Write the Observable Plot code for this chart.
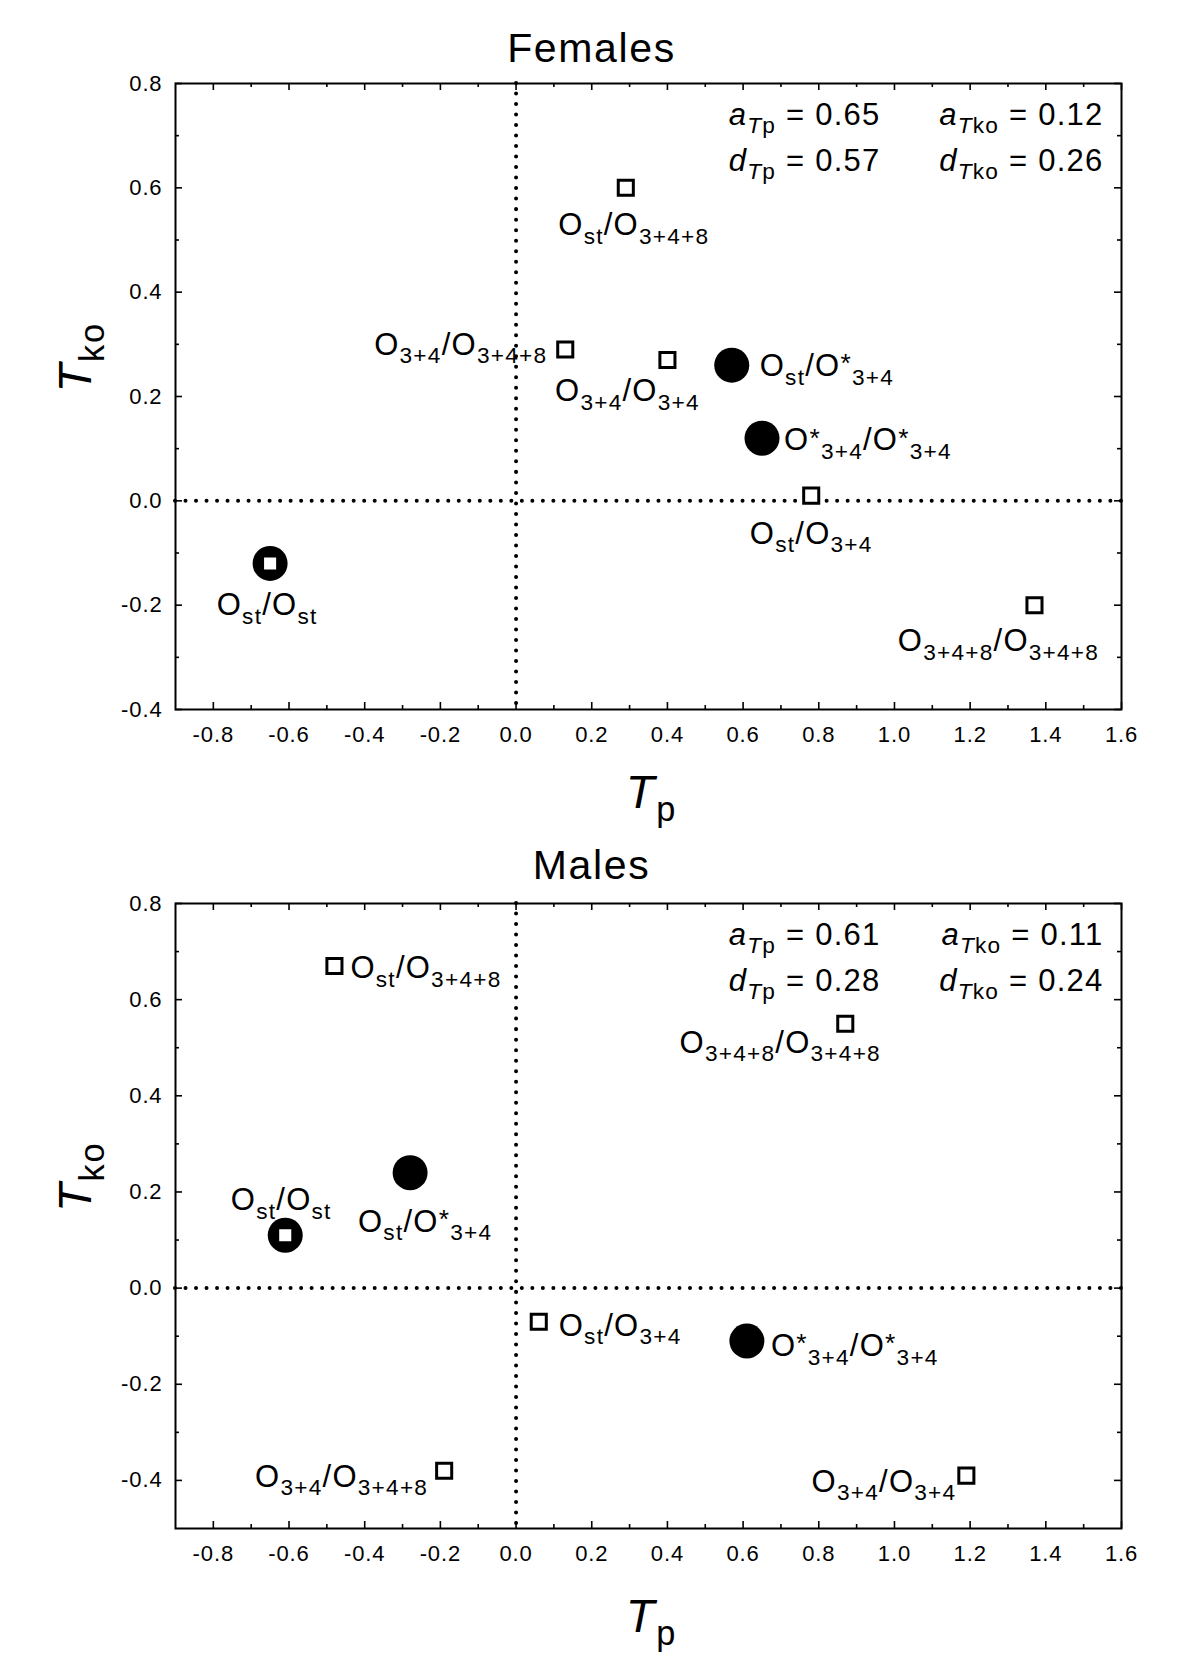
<!DOCTYPE html>
<html><head><meta charset="utf-8">
<script src="https://cdn.jsdelivr.net/npm/d3@7"></script>
<script src="https://cdn.jsdelivr.net/npm/@observablehq/plot@0.6"></script>
<style>
body{margin:0;background:#fff;}
svg{display:block;}
svg text{letter-spacing:0.04em;}
</style></head><body><div id="chart"></div>
<script>
// ---------- data ----------
const xTicks = [-0.8, -0.6, -0.4, -0.2, 0.0, 0.2, 0.4, 0.6, 0.8, 1.0, 1.2, 1.4, 1.6];
const xMinorTicks = [-0.7, -0.5, -0.3, -0.1, 0.1, 0.3, 0.5, 0.7, 0.9, 1.1, 1.3, 1.5];
const yTicks = [-0.4, -0.2, 0.0, 0.2, 0.4, 0.6, 0.8];
const yMinorTicks = [-0.3, -0.1, 0.1, 0.3, 0.5, 0.7];

const statNames = ["~{a}_{~{T}p}", "~{a}_{~{T}ko}", "~{d}_{~{T}p}", "~{d}_{~{T}ko}"];

const femaleLabels = ["O_{st}/O_{3+4+8}", "O_{3+4}/O_{3+4+8}", "O_{3+4}/O_{3+4}", "O_{st}/O^{*}_{3+4}",
  "O^{*}_{3+4}/O^{*}_{3+4}", "O_{st}/O_{3+4}", "O_{3+4+8}/O_{3+4+8}", "O_{st}/O_{st}"];
const femaleTp  = [0.29, 0.13, 0.40, 0.57, 0.65, 0.78, 1.37, -0.65];
const femaleTko = [0.60, 0.29, 0.27, 0.26, 0.12, 0.01, -0.20, -0.12];
const femaleMarker = ["square", "square", "square", "circle", "circle", "square", "square", "both"];
const femaleStats = [0.65, 0.12, 0.57, 0.26];

const maleLabels = ["O_{st}/O_{3+4+8}", "O_{st}/O_{st}", "O_{st}/O^{*}_{3+4}", "O_{3+4+8}/O_{3+4+8}",
  "O_{st}/O_{3+4}", "O^{*}_{3+4}/O^{*}_{3+4}", "O_{3+4}/O_{3+4+8}", "O_{3+4}/O_{3+4}"];
const maleTp  = [-0.48, -0.61, -0.28, 0.87, 0.06, 0.61, -0.19, 1.19];
const maleTko = [0.67, 0.11, 0.24, 0.55, -0.07, -0.11, -0.38, -0.39];
const maleMarker = ["square", "both", "circle", "square", "square", "circle", "square", "square"];
const maleStats = [0.61, 0.11, 0.28, 0.24];

// ---------- layout (label placement, not data) ----------
const femaleLayout = [
  {anchor: "middle", dx: 8, b: 47}, {anchor: "end", dx: -18, b: 5}, {anchor: "middle", dx: -40, b: 41},
  {anchor: "start", dx: 28, b: 11}, {anchor: "start", dx: 22, b: 12}, {anchor: "middle", dx: 0, b: 48},
  {anchor: "middle", dx: -36, b: 46}, {anchor: "middle", dx: -3, b: 52}];
const maleLayout = [
  {anchor: "start", dx: 16, b: 12}, {anchor: "middle", dx: -4, b: -25}, {anchor: "middle", dx: 15, b: 59},
  {anchor: "middle", dx: -65, b: 29}, {anchor: "start", dx: 20, b: 14}, {anchor: "start", dx: 24, b: 15},
  {anchor: "end", dx: -16, b: 16}, {anchor: "end", dx: -10, b: 16}];
const statLayout = [{dx: -241, b: 41}, {dx: -18, b: 41}, {dx: -241, b: 87}, {dx: -18, b: 87}];

const FONT = "'Liberation Sans', Arial, Helvetica, sans-serif";
const ML = 175, MR = 79, W = 1200;
const LF = 31;          // label font size
const MID = 0.32;       // baseline offset of a middle-anchored line, in em

function panel(cfg) {
  const rows = cfg.labels.map((label, i) => ({label, tp: cfg.tp[i], tko: cfg.tko[i], marker: cfg.marker[i]}));
  const H = cfg.height - cfg.marginTop - cfg.marginBottom;
  const FW = W - ML - MR;
  const maj = 7, min = 4, tsw = 1.6;
  const dotted = {stroke: "black", strokeWidth: 4, strokeDasharray: "0.01 10.5", strokeLinecap: "round"};
  const stats = cfg.stats.map((v, i) => statNames[i] + " = " + v.toFixed(2));
  const marks = [
    Plot.ruleX([0], dotted),
    Plot.ruleY([0], dotted),
    Plot.ruleX(xTicks, {x: d => d, insetTop: H - maj, strokeWidth: tsw}),
    Plot.ruleX(xTicks, {x: d => d, insetBottom: H - maj, strokeWidth: tsw}),
    Plot.ruleX(xMinorTicks, {x: d => d, insetTop: H - min, strokeWidth: tsw}),
    Plot.ruleX(xMinorTicks, {x: d => d, insetBottom: H - min, strokeWidth: tsw}),
    Plot.ruleY(yTicks, {y: d => d, insetRight: FW - maj, strokeWidth: tsw}),
    Plot.ruleY(yTicks, {y: d => d, insetLeft: FW - maj, strokeWidth: tsw}),
    Plot.ruleY(yMinorTicks, {y: d => d, insetRight: FW - min, strokeWidth: tsw}),
    Plot.ruleY(yMinorTicks, {y: d => d, insetLeft: FW - min, strokeWidth: tsw}),
    Plot.frame({stroke: "black", strokeWidth: 2}),
    Plot.axisX({anchor: "bottom", ticks: xTicks, tickFormat: d => d.toFixed(1), tickSize: 0, tickPadding: 17, fontSize: 22, label: null}),
    Plot.axisY({anchor: "left", ticks: yTicks, tickFormat: d => d.toFixed(1), tickSize: 0, tickPadding: 13, fontSize: 22, label: null}),
    Plot.dot(rows.filter(d => d.marker !== "square"), {x: "tp", y: "tko", r: 17.5, fill: "black"}),
    Plot.dot(rows.filter(d => d.marker !== "circle"), {x: "tp", y: "tko", symbol: "square", r: 8.5, fill: "white", stroke: "black", strokeWidth: 3}),
    ...rows.map((d, i) => Plot.text([d], {x: "tp", y: "tko", text: "label", ariaLabel: "point-label", lineAnchor: "middle",
      textAnchor: cfg.layout[i].anchor, dx: cfg.layout[i].dx, dy: cfg.layout[i].b - MID * LF, fontSize: LF})),
    ...stats.map((s, i) => Plot.text([s], {frameAnchor: "top-right", textAnchor: "end", ariaLabel: "stat", lineAnchor: "middle",
      dx: statLayout[i].dx, dy: statLayout[i].b - MID * LF, fontSize: LF})),
    Plot.text([cfg.title], {frameAnchor: "top", lineAnchor: "middle", dx: -57, dy: cfg.titleGap - MID * 41, fontSize: 41}),
    Plot.text(["~{T}_{p}"], {frameAnchor: "bottom", lineAnchor: "middle", ariaLabel: "axis-label", dx: 3, dy: cfg.xLabelGap - MID * 47, fontSize: 47}),
    Plot.text(["~{T}_{ko}"], {frameAnchor: "left", lineAnchor: "middle", ariaLabel: "axis-label", rotate: -90, dx: -85 - MID * 47, dy: -4, fontSize: 47})
  ];
  return Plot.plot({
    width: W, height: cfg.height,
    marginTop: cfg.marginTop, marginBottom: cfg.marginBottom, marginLeft: ML, marginRight: MR,
    x: {domain: [-0.9, 1.6]},
    y: {domain: cfg.yDomain},
    style: {fontFamily: FONT, fontSize: "20px", color: "black", background: "white"},
    marks
  });
}

function parseRich(s) {
  const runs = [], stack = [{italic: false, level: 0}];
  let buf = "";
  const flush = () => { if (buf) { const st = stack[stack.length - 1]; runs.push({text: buf, italic: st.italic, level: st.level}); buf = ""; } };
  for (let i = 0; i < s.length; i++) {
    const c = s[i];
    if ((c === "_" || c === "^" || c === "~") && s[i + 1] === "{") {
      flush();
      const st = stack[stack.length - 1];
      stack.push({italic: c === "~" ? true : st.italic, level: c === "_" ? -1 : c === "^" ? 1 : st.level});
      i++;
    } else if (c === "}") { flush(); stack.pop(); }
    else buf += c;
  }
  flush();
  return runs;
}

const richOpts = {
  "point-label": {subScale: 0.73, subShift: 0.28, supScale: 0.85, supShift: -0.12},
  "stat": {subScale: 0.64, subShift: 0.25, supScale: 0.7, supShift: -0.3},
  "axis-label": {subScale: 0.74, subShift: 0.16, supScale: 0.7, supShift: -0.3}
};

function richify(svg) {
  const ns = "http://www.w3.org/2000/svg";
  svg.querySelectorAll("text").forEach(t => {
    const s = t.textContent;
    if (!/[_^~]\{/.test(s)) return;
    const g = t.closest("g[aria-label]");
    const o = richOpts[g ? g.getAttribute("aria-label") : ""] || richOpts["point-label"];
    const base = parseFloat(getComputedStyle(t).fontSize);
    const runs = parseRich(s);
    while (t.firstChild) t.removeChild(t.firstChild);
    let cur = 0;
    for (const r of runs) {
      const off = r.level < 0 ? o.subShift * base : r.level > 0 ? o.supShift * base : 0;
      const ts = document.createElementNS(ns, "tspan");
      ts.setAttribute("dy", (off - cur).toFixed(2));
      cur = off;
      const size = r.level < 0 ? base * o.subScale : r.level > 0 ? base * o.supScale : base;
      ts.setAttribute("font-size", size.toFixed(2));
      if (r.italic) ts.setAttribute("font-style", "italic");
      ts.textContent = r.text;
      t.appendChild(ts);
    }
  });
}

const chartEl = document.getElementById("chart");
const femalePlot = panel({title: "Females", labels: femaleLabels, tp: femaleTp, tko: femaleTko, marker: femaleMarker,
  layout: femaleLayout, stats: femaleStats, yDomain: [-0.4, 0.8],
  height: 832, marginTop: 83, marginBottom: 123, titleGap: -22, xLabelGap: 98});
const malePlot = panel({title: "Males", labels: maleLabels, tp: maleTp, tko: maleTko, marker: maleMarker,
  layout: maleLayout, stats: maleStats, yDomain: [-0.5, 0.8],
  height: 841, marginTop: 71, marginBottom: 145, titleGap: -25, xLabelGap: 103});
chartEl.appendChild(femalePlot);
chartEl.appendChild(malePlot);
richify(femalePlot);
richify(malePlot);
</script>
</body></html>
